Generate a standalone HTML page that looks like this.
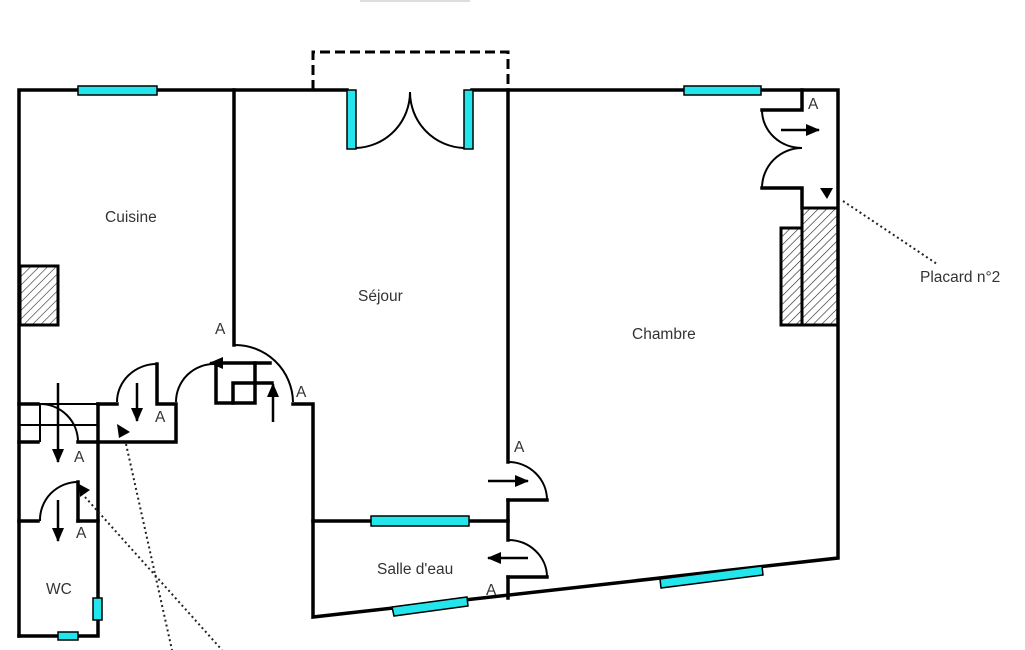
<!DOCTYPE html>
<html><head><meta charset="utf-8"><style>
html,body{margin:0;padding:0;background:#fff;}
svg{display:block;}
text{font-family:"Liberation Sans",Arial,sans-serif;font-size:15.5px;fill:#333;}
</style></head><body>
<svg width="1025" height="650" viewBox="0 0 1025 650" xmlns="http://www.w3.org/2000/svg">
<defs>
<pattern id="h" patternUnits="userSpaceOnUse" width="6" height="6" patternTransform="rotate(45)">
<line x1="0" y1="0" x2="0" y2="6" stroke="#222" stroke-width="1.2"/></pattern>
<marker id="ar" markerWidth="14" markerHeight="12" refX="13" refY="6" orient="auto" markerUnits="userSpaceOnUse"><path d="M0,0 L14,6 L0,12z" fill="#000"/></marker>
</defs>
<rect x="360" y="-6" width="110" height="8" fill="#ddd"/>
<g fill="none" stroke="#000" stroke-width="3.5" stroke-linecap="square">
<path d="M19,636 V90 H347"/>
<path d="M472,90 H838 V558 L313,617 V404 H293"/>
<path d="M19,636 H98 V404"/>
<path d="M234,90 V345"/>
<path d="M508,90 V462"/>
<path d="M508,500 V540"/>
<path d="M508,577 V598"/>
<path d="M313,521 H508"/>
<path d="M19,404 H38"/>
<path d="M19,442 H38"/>
<path d="M78,442 H98"/>
<path d="M19,521 H38"/>
<path d="M78,521 H98"/>
<path d="M78,482 V521"/>
<path d="M98,404 H117"/>
<path d="M157,364 V404 H176 V442 H98"/>
<path d="M215,363 H270"/>
<path d="M216,363 V403 H255 V363"/>
<path d="M233,403 V383 H272"/>
<path d="M802,90 V110 H762"/>
<path d="M762,188 H802 V208"/>
<path d="M547,500 H508"/>
<path d="M547,577 H508"/>
</g>
<path d="M313,90 V52 H508 V90" fill="none" stroke="#000" stroke-width="3" stroke-dasharray="10,5"/>
<g fill="none" stroke="#000" stroke-width="2">
<path d="M234,345 A58,58 0 0 1 293,402"/>
<path d="M176,402 A38,38 0 0 1 215,364"/>
<path d="M117,402 A40,38 0 0 1 157,364"/>
<path d="M40,404 A38,38 0 0 1 78,442"/>
<path d="M40,521 A38,38 0 0 1 78,482"/>
<path d="M356,148 A56,56 0 0 0 410,92"/>
<path d="M464,148 A56,56 0 0 1 410,92"/>
<path d="M508,462 A39,38 0 0 1 547,500"/>
<path d="M508,540 A39,37 0 0 1 547,577"/>
<path d="M762,110 A40,38 0 0 0 802,148 A40,40 0 0 0 762,188"/>
</g>
<g stroke="#000" stroke-width="2">
<line x1="19" y1="425" x2="98" y2="425"/>
<line x1="40" y1="403" x2="40" y2="442"/>
<line x1="19" y1="404" x2="98" y2="404"/>
</g>
<g stroke="#000" stroke-width="3">
<rect x="20" y="266" width="38" height="59" fill="url(#h)"/>
<rect x="781" y="228" width="21" height="97" fill="url(#h)"/>
<rect x="802" y="208" width="36" height="117" fill="url(#h)"/>
</g>
<g fill="#22e6ec" stroke="#000" stroke-width="1.5">
<rect x="78" y="86" width="79" height="9"/>
<rect x="684" y="86" width="77" height="9"/>
<rect x="347" y="90" width="9" height="59"/>
<rect x="464" y="90" width="9" height="59"/>
<rect x="371" y="516" width="98" height="10"/>
<rect x="93" y="598" width="9" height="22"/>
<rect x="58" y="632" width="20" height="8"/>
<polygon points="392,607 467,597 468,606 394,616"/>
<polygon points="660,579 762,566 763,575 661,588"/>
</g>
<g stroke="#000" stroke-width="2.5" marker-end="url(#ar)">
<line x1="58" y1="383" x2="58" y2="462"/>
<line x1="58" y1="500" x2="58" y2="541"/>
<line x1="137" y1="383" x2="137" y2="421"/>
<line x1="273" y1="422" x2="273" y2="384"/>
<line x1="240" y1="363" x2="210" y2="363"/>
<line x1="488" y1="481" x2="528" y2="481"/>
<line x1="528" y1="558" x2="488" y2="558"/>
<line x1="781" y1="130" x2="819" y2="130"/>
</g>
<g fill="#000">
<path d="M117,424 L130,432 L119,438z"/>
<path d="M79,484 L90,490 L80,497z"/>
<path d="M820,188 L833,188 L827,199z"/>
</g>
<g stroke="#222" stroke-width="2" stroke-dasharray="2,3" fill="none">
<line x1="126" y1="444" x2="172" y2="650"/>
<line x1="85" y1="497" x2="222" y2="650"/>
<line x1="843" y1="201" x2="937" y2="264"/>
</g>
<text x="105" y="222">Cuisine</text>
<text x="358" y="301">Séjour</text>
<text x="632" y="339">Chambre</text>
<text x="377" y="574">Salle d'eau</text>
<text x="46" y="594">WC</text>
<text x="920" y="282">Placard n°2</text>
<g style="font-size:14px">
<text x="215" y="334">A</text>
<text x="296" y="397">A</text>
<text x="155" y="422">A</text>
<text x="74" y="462">A</text>
<text x="76" y="538">A</text>
<text x="514" y="452">A</text>
<text x="486" y="595">A</text>
<text x="808" y="109">A</text>
</g>
</svg>
</body></html>
